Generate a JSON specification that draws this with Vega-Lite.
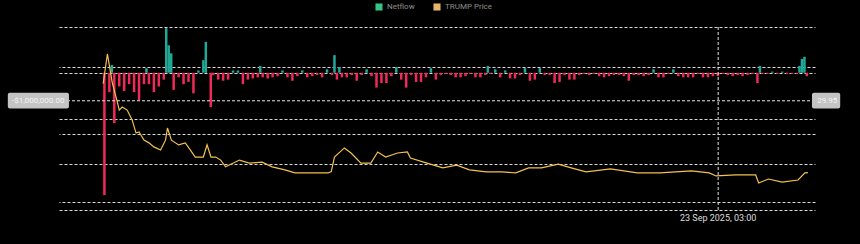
{
  "$schema": "https://vega.github.io/schema/vega-lite/v6.json",
  "width": 756,
  "height": 183,
  "autosize": {"type": "none"},
  "padding": {"left": 59, "top": 27, "right": 45, "bottom": 34},
  "background": "#000000",
  "config": {
    "view": {"stroke": null},
    "font": "Roboto",
    "axis": {"gridColor": "#e4e4e4", "gridOpacity": 0.95, "gridDash": [3, 2], "gridWidth": 1}
  },
  "datasets": {
    "flows": [
      {"date": "2025-01-18", "netflow": -5350000},
      {"date": "2025-01-20", "netflow": -850000},
      {"date": "2025-01-21", "netflow": 340000},
      {"date": "2025-01-22", "netflow": -2200000},
      {"date": "2025-01-24", "netflow": -600000},
      {"date": "2025-01-26", "netflow": -800000},
      {"date": "2025-01-28", "netflow": -500000},
      {"date": "2025-01-30", "netflow": -850000},
      {"date": "2025-02-01", "netflow": -1200000},
      {"date": "2025-02-03", "netflow": -500000},
      {"date": "2025-02-04", "netflow": 200000},
      {"date": "2025-02-05", "netflow": -500000},
      {"date": "2025-02-07", "netflow": -850000},
      {"date": "2025-02-09", "netflow": -600000},
      {"date": "2025-02-11", "netflow": -300000},
      {"date": "2025-02-12", "netflow": 1950000},
      {"date": "2025-02-13", "netflow": 1200000},
      {"date": "2025-02-14", "netflow": 850000},
      {"date": "2025-02-15", "netflow": -750000},
      {"date": "2025-02-17", "netflow": -200000},
      {"date": "2025-02-19", "netflow": -500000},
      {"date": "2025-02-21", "netflow": -400000},
      {"date": "2025-02-23", "netflow": -900000},
      {"date": "2025-02-25", "netflow": 100000},
      {"date": "2025-02-27", "netflow": 550000},
      {"date": "2025-02-28", "netflow": 1350000},
      {"date": "2025-03-02", "netflow": -1500000},
      {"date": "2025-03-03", "netflow": -100000},
      {"date": "2025-03-05", "netflow": -300000},
      {"date": "2025-03-07", "netflow": -350000},
      {"date": "2025-03-09", "netflow": -300000},
      {"date": "2025-03-11", "netflow": 100000},
      {"date": "2025-03-13", "netflow": 100000},
      {"date": "2025-03-15", "netflow": -500000},
      {"date": "2025-03-17", "netflow": -300000},
      {"date": "2025-03-19", "netflow": -250000},
      {"date": "2025-03-21", "netflow": -200000},
      {"date": "2025-03-22", "netflow": 300000},
      {"date": "2025-03-23", "netflow": -200000},
      {"date": "2025-03-25", "netflow": -250000},
      {"date": "2025-03-27", "netflow": -200000},
      {"date": "2025-03-29", "netflow": -150000},
      {"date": "2025-03-31", "netflow": 100000},
      {"date": "2025-04-02", "netflow": -200000},
      {"date": "2025-04-04", "netflow": -350000},
      {"date": "2025-04-06", "netflow": -150000},
      {"date": "2025-04-08", "netflow": 100000},
      {"date": "2025-04-10", "netflow": -200000},
      {"date": "2025-04-12", "netflow": -150000},
      {"date": "2025-04-14", "netflow": -100000},
      {"date": "2025-04-16", "netflow": -200000},
      {"date": "2025-04-18", "netflow": 150000},
      {"date": "2025-04-20", "netflow": -100000},
      {"date": "2025-04-21", "netflow": 770000},
      {"date": "2025-04-22", "netflow": -300000},
      {"date": "2025-04-23", "netflow": 250000},
      {"date": "2025-04-24", "netflow": -200000},
      {"date": "2025-04-26", "netflow": -200000},
      {"date": "2025-04-28", "netflow": -100000},
      {"date": "2025-04-30", "netflow": -350000},
      {"date": "2025-05-02", "netflow": -100000},
      {"date": "2025-05-04", "netflow": 150000},
      {"date": "2025-05-06", "netflow": -150000},
      {"date": "2025-05-08", "netflow": -650000},
      {"date": "2025-05-10", "netflow": -450000},
      {"date": "2025-05-12", "netflow": -450000},
      {"date": "2025-05-14", "netflow": -150000},
      {"date": "2025-05-16", "netflow": 250000},
      {"date": "2025-05-18", "netflow": -300000},
      {"date": "2025-05-20", "netflow": -650000},
      {"date": "2025-05-22", "netflow": -100000},
      {"date": "2025-05-24", "netflow": -400000},
      {"date": "2025-05-26", "netflow": -400000},
      {"date": "2025-05-28", "netflow": -200000},
      {"date": "2025-05-30", "netflow": 200000},
      {"date": "2025-06-01", "netflow": -300000},
      {"date": "2025-06-03", "netflow": -100000},
      {"date": "2025-06-05", "netflow": -50000},
      {"date": "2025-06-07", "netflow": -100000},
      {"date": "2025-06-09", "netflow": -200000},
      {"date": "2025-06-11", "netflow": -200000},
      {"date": "2025-06-13", "netflow": -150000},
      {"date": "2025-06-15", "netflow": -50000},
      {"date": "2025-06-17", "netflow": -200000},
      {"date": "2025-06-19", "netflow": -200000},
      {"date": "2025-06-21", "netflow": -100000},
      {"date": "2025-06-22", "netflow": 300000},
      {"date": "2025-06-23", "netflow": -50000},
      {"date": "2025-06-25", "netflow": 150000},
      {"date": "2025-06-27", "netflow": -200000},
      {"date": "2025-06-29", "netflow": 100000},
      {"date": "2025-07-01", "netflow": -250000},
      {"date": "2025-07-03", "netflow": -250000},
      {"date": "2025-07-05", "netflow": -100000},
      {"date": "2025-07-07", "netflow": 200000},
      {"date": "2025-07-09", "netflow": -350000},
      {"date": "2025-07-11", "netflow": -300000},
      {"date": "2025-07-13", "netflow": 200000},
      {"date": "2025-07-15", "netflow": -100000},
      {"date": "2025-07-17", "netflow": -100000},
      {"date": "2025-07-19", "netflow": -450000},
      {"date": "2025-07-21", "netflow": -400000},
      {"date": "2025-07-23", "netflow": -100000},
      {"date": "2025-07-25", "netflow": -300000},
      {"date": "2025-07-27", "netflow": -300000},
      {"date": "2025-07-29", "netflow": -100000},
      {"date": "2025-07-31", "netflow": -50000},
      {"date": "2025-08-02", "netflow": -100000},
      {"date": "2025-08-04", "netflow": -50000},
      {"date": "2025-08-06", "netflow": -150000},
      {"date": "2025-08-08", "netflow": -200000},
      {"date": "2025-08-10", "netflow": -150000},
      {"date": "2025-08-12", "netflow": -100000},
      {"date": "2025-08-14", "netflow": -100000},
      {"date": "2025-08-16", "netflow": -150000},
      {"date": "2025-08-18", "netflow": -350000},
      {"date": "2025-08-20", "netflow": -100000},
      {"date": "2025-08-22", "netflow": -100000},
      {"date": "2025-08-24", "netflow": -150000},
      {"date": "2025-08-26", "netflow": -100000},
      {"date": "2025-08-28", "netflow": 150000},
      {"date": "2025-08-30", "netflow": -200000},
      {"date": "2025-09-01", "netflow": -200000},
      {"date": "2025-09-03", "netflow": -50000},
      {"date": "2025-09-05", "netflow": 150000},
      {"date": "2025-09-07", "netflow": -150000},
      {"date": "2025-09-09", "netflow": -200000},
      {"date": "2025-09-11", "netflow": -200000},
      {"date": "2025-09-13", "netflow": -200000},
      {"date": "2025-09-15", "netflow": -50000},
      {"date": "2025-09-17", "netflow": -200000},
      {"date": "2025-09-19", "netflow": -200000},
      {"date": "2025-09-21", "netflow": -150000},
      {"date": "2025-09-23", "netflow": -150000},
      {"date": "2025-09-25", "netflow": -50000},
      {"date": "2025-09-27", "netflow": -100000},
      {"date": "2025-09-29", "netflow": -150000},
      {"date": "2025-10-01", "netflow": -100000},
      {"date": "2025-10-03", "netflow": -150000},
      {"date": "2025-10-05", "netflow": -100000},
      {"date": "2025-10-07", "netflow": -50000},
      {"date": "2025-10-09", "netflow": -450000},
      {"date": "2025-10-10", "netflow": 300000},
      {"date": "2025-10-11", "netflow": -50000},
      {"date": "2025-10-13", "netflow": -50000},
      {"date": "2025-10-15", "netflow": 50000},
      {"date": "2025-10-17", "netflow": -50000},
      {"date": "2025-10-19", "netflow": 50000},
      {"date": "2025-10-21", "netflow": -50000},
      {"date": "2025-10-23", "netflow": -50000},
      {"date": "2025-10-25", "netflow": -50000},
      {"date": "2025-10-26", "netflow": 300000},
      {"date": "2025-10-27", "netflow": 600000},
      {"date": "2025-10-28", "netflow": 700000},
      {"date": "2025-10-29", "netflow": -150000}
    ],
    "prices": [
      {"date": "2025-01-17T12:00:00Z", "price": 35},
      {"date": "2025-01-19T05:00:00Z", "price": 43.8},
      {"date": "2025-01-21T05:00:00Z", "price": 35.2},
      {"date": "2025-01-23T05:00:00Z", "price": 29.6},
      {"date": "2025-01-24T00:00:00Z", "price": 27.2},
      {"date": "2025-01-25T05:00:00Z", "price": 28.1},
      {"date": "2025-01-27T05:00:00Z", "price": 27.2},
      {"date": "2025-01-29T05:00:00Z", "price": 24.3},
      {"date": "2025-01-30T19:00:00Z", "price": 20.4},
      {"date": "2025-02-01T00:00:00Z", "price": 20.7},
      {"date": "2025-02-03T00:00:00Z", "price": 18.3},
      {"date": "2025-02-05T00:00:00Z", "price": 17.5},
      {"date": "2025-02-07T00:00:00Z", "price": 16.3},
      {"date": "2025-02-09T17:00:00Z", "price": 15.4},
      {"date": "2025-02-11T17:00:00Z", "price": 18.3},
      {"date": "2025-02-12T12:00:00Z", "price": 21.9},
      {"date": "2025-02-14T02:00:00Z", "price": 18.3},
      {"date": "2025-02-17T00:00:00Z", "price": 16.9},
      {"date": "2025-02-19T17:00:00Z", "price": 17.5},
      {"date": "2025-02-21T17:00:00Z", "price": 15.4},
      {"date": "2025-02-23T17:00:00Z", "price": 13.3},
      {"date": "2025-02-27T00:00:00Z", "price": 13.3},
      {"date": "2025-02-28T12:00:00Z", "price": 16.9},
      {"date": "2025-03-02T02:00:00Z", "price": 13.3},
      {"date": "2025-03-04T00:00:00Z", "price": 13.3},
      {"date": "2025-03-06T00:00:00Z", "price": 12.4},
      {"date": "2025-03-08T00:00:00Z", "price": 10.4},
      {"date": "2025-03-13T14:00:00Z", "price": 12.4},
      {"date": "2025-03-17T14:00:00Z", "price": 11.5},
      {"date": "2025-03-22T19:00:00Z", "price": 11.8},
      {"date": "2025-03-26T19:00:00Z", "price": 10.4},
      {"date": "2025-04-01T00:00:00Z", "price": 9.5},
      {"date": "2025-04-05T00:00:00Z", "price": 8.6},
      {"date": "2025-04-13T00:00:00Z", "price": 8.6},
      {"date": "2025-04-18T12:00:00Z", "price": 8.6},
      {"date": "2025-04-19T17:00:00Z", "price": 9.0},
      {"date": "2025-04-21T00:00:00Z", "price": 13.3},
      {"date": "2025-04-25T00:00:00Z", "price": 16.0},
      {"date": "2025-04-27T17:00:00Z", "price": 14.5},
      {"date": "2025-05-01T17:00:00Z", "price": 11.5},
      {"date": "2025-05-05T17:00:00Z", "price": 11.5},
      {"date": "2025-05-08T12:00:00Z", "price": 14.8},
      {"date": "2025-05-11T17:00:00Z", "price": 13.3},
      {"date": "2025-05-16T12:00:00Z", "price": 14.5},
      {"date": "2025-05-20T12:00:00Z", "price": 14.8},
      {"date": "2025-05-21T17:00:00Z", "price": 13.0},
      {"date": "2025-05-28T10:00:00Z", "price": 11.5},
      {"date": "2025-06-03T19:00:00Z", "price": 10.1},
      {"date": "2025-06-09T10:00:00Z", "price": 10.9},
      {"date": "2025-06-14T14:00:00Z", "price": 9.5},
      {"date": "2025-06-21T10:00:00Z", "price": 8.9},
      {"date": "2025-06-27T17:00:00Z", "price": 8.9},
      {"date": "2025-07-03T07:00:00Z", "price": 8.6},
      {"date": "2025-07-08T12:00:00Z", "price": 10.1},
      {"date": "2025-07-13T17:00:00Z", "price": 10.1},
      {"date": "2025-07-20T12:00:00Z", "price": 11.2},
      {"date": "2025-07-25T17:00:00Z", "price": 10.1},
      {"date": "2025-07-31T17:00:00Z", "price": 8.9},
      {"date": "2025-08-10T14:00:00Z", "price": 9.8},
      {"date": "2025-08-21T10:00:00Z", "price": 8.6},
      {"date": "2025-08-30T14:00:00Z", "price": 8.6},
      {"date": "2025-09-12T07:00:00Z", "price": 9.2},
      {"date": "2025-09-19T12:00:00Z", "price": 8.6},
      {"date": "2025-09-22T07:00:00Z", "price": 7.7},
      {"date": "2025-09-30T07:00:00Z", "price": 8.0},
      {"date": "2025-10-08T07:00:00Z", "price": 8.0},
      {"date": "2025-10-09T12:00:00Z", "price": 5.6},
      {"date": "2025-10-13T10:00:00Z", "price": 6.8},
      {"date": "2025-10-19T00:00:00Z", "price": 5.9},
      {"date": "2025-10-25T10:00:00Z", "price": 6.5},
      {"date": "2025-10-28T05:00:00Z", "price": 8.6},
      {"date": "2025-10-29T10:00:00Z", "price": 8.7}
    ],
    "crosshair": [
      {"date": "2025-09-23T03:00:00Z", "price": 29.95, "leftLabel": "-$1,000,000.00", "rightLabel": "29.95", "dateLabel": "23 Sep 2025, 03:00"}
    ]
  },
  "layer": [
    {
      "data": {"name": "flows"},
      "transform": [{"calculate": "'Netflow'", "as": "series"}],
      "mark": {"type": "bar", "width": 2.5},
      "encoding": {
        "x": {
          "field": "date", "type": "temporal",
          "scale": {"type": "utc", "domain": [1735747200000, 1761804000000]},
          "axis": null
        },
        "y": {
          "field": "netflow", "type": "quantitative",
          "scale": {"domain": [-6000000, 2000000], "nice": false, "zero": false},
          "axis": {"orient": "left", "values": [-6000000, -4000000, -2000000, 0, 2000000], "grid": true, "labels": false, "ticks": false, "domain": false, "title": null}
        },
        "color": {
          "condition": [
            {"test": "datum.netflow < 0", "value": "#ef2a58"},
            {"test": "datum.netflow >= 0", "value": "#22a898"}
          ],
          "field": "series", "type": "nominal",
          "scale": {"domain": ["Netflow", "TRUMP Price"], "range": ["#33c486", "#e6b566"]},
          "legend": {
            "orient": "none", "legendX": 316, "legendY": -24, "direction": "horizontal",
            "title": null, "symbolType": "square", "symbolSize": 50,
            "labelColor": "#8f8f8f", "labelFontSize": 8, "columnPadding": 18, "symbolStrokeWidth": 0
          }
        }
      }
    },
    {
      "layer": [
        {
          "data": {"name": "prices"},
          "mark": {"type": "line", "color": "#f2c14e", "strokeWidth": 1.2},
          "encoding": {
            "x": {"field": "date", "type": "temporal", "scale": {"type": "utc", "domain": [1735747200000, 1761804000000]}},
            "y": {
              "field": "price", "type": "quantitative",
              "scale": {"domain": [-2.37, 51.78], "nice": false, "zero": false},
              "axis": {"orient": "right", "values": [0, 10, 20, 30, 40, 50], "grid": true, "labels": false, "ticks": false, "domain": false, "title": null}
            }
          }
        },
        {
          "data": {"name": "crosshair"},
          "mark": {"type": "rule", "color": "#e6e6e6", "strokeDash": [3, 2], "strokeWidth": 1},
          "encoding": {"x": {"field": "date", "type": "temporal"}}
        },
        {
          "data": {"name": "crosshair"},
          "mark": {"type": "rule", "color": "#e6e6e6", "strokeDash": [3, 2], "strokeWidth": 1},
          "encoding": {"y": {"field": "price", "type": "quantitative"}}
        },
        {
          "data": {"name": "crosshair"},
          "mark": {"type": "rect", "color": "#c4c4c4", "cornerRadius": 2},
          "encoding": {
            "x": {"datum": {"year": 2024, "month": 12, "date": 9, "hours": 23, "utc": true}, "type": "temporal"},
            "x2": {"datum": {"year": 2025, "month": 1, "date": 3, "hours": 16, "utc": true}},
            "y": {"datum": 32.3, "type": "quantitative"},
            "y2": {"datum": 27.7}
          }
        },
        {
          "data": {"name": "crosshair"},
          "mark": {"type": "rect", "color": "#c4c4c4", "cornerRadius": 2},
          "encoding": {
            "x": {"datum": {"year": 2025, "month": 10, "date": 31, "hours": 1, "utc": true}, "type": "temporal"},
            "x2": {"datum": {"year": 2025, "month": 11, "date": 11, "hours": 11, "utc": true}},
            "y": {"datum": 32.3, "type": "quantitative"},
            "y2": {"datum": 27.7}
          }
        },
        {
          "data": {"name": "crosshair"},
          "mark": {"type": "text", "color": "#f4f4f4", "fontSize": 8, "align": "center", "baseline": "middle"},
          "encoding": {
            "x": {"datum": {"year": 2024, "month": 12, "date": 22, "hours": 6, "utc": true}, "type": "temporal"},
            "y": {"field": "price", "type": "quantitative"},
            "text": {"field": "leftLabel"}
          }
        },
        {
          "data": {"name": "crosshair"},
          "mark": {"type": "text", "color": "#f4f4f4", "fontSize": 8, "align": "center", "baseline": "middle"},
          "encoding": {
            "x": {"datum": {"year": 2025, "month": 11, "date": 6, "hours": 6, "utc": true}, "type": "temporal"},
            "y": {"field": "price", "type": "quantitative"},
            "text": {"field": "rightLabel"}
          }
        },
        {
          "data": {"name": "crosshair"},
          "mark": {"type": "text", "color": "#dddddd", "fontSize": 9, "align": "center", "baseline": "middle"},
          "encoding": {
            "x": {"field": "date", "type": "temporal"},
            "y": {"datum": -4.7, "type": "quantitative"},
            "text": {"field": "dateLabel"}
          }
        }
      ]
    }
  ],
  "resolve": {"scale": {"y": "independent"}, "axis": {"y": "independent"}}
}
